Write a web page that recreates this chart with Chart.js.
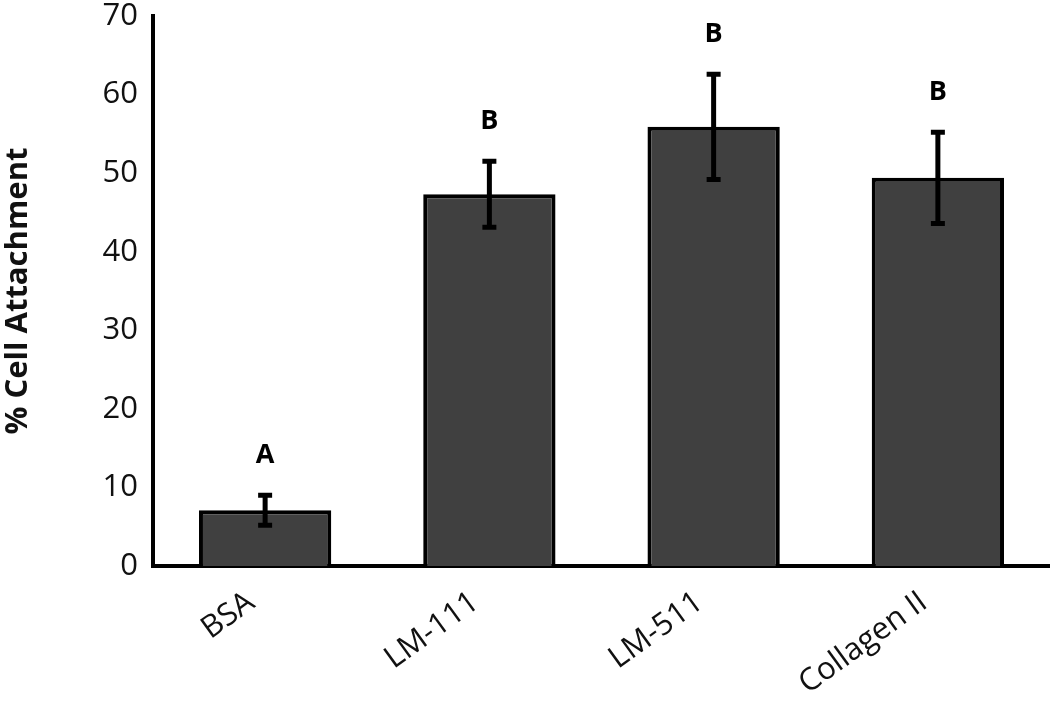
<!DOCTYPE html>
<html>
<head>
<meta charset="utf-8">
<script src="https://cdn.jsdelivr.net/npm/chart.js@4.4.1/dist/chart.umd.min.js"></script>
<style>
  html, body { margin: 0; padding: 0; background: #fff; }
  #wrap { width: 1050px; height: 708px; position: relative; }
</style>
</head>
<body>
<div id="wrap"><canvas id="chart"></canvas></div>
<script>
/* ---------- data ---------- */
const categories = ['BSA', 'LM-111', 'LM-511', 'Collagen II'];
const attachment = [7.1, 47.3, 55.9, 49.4];
const errors = [1.9, 4.2, 6.7, 5.8];
const groups = ['A', 'B', 'B', 'B'];
const yTicks = [0, 10, 20, 30, 40, 50, 60, 70];

const FONT = '"Open Sans", "Liberation Sans", sans-serif';

/* error bars + significance letters */
const errorBarPlugin = {
  id: 'errorBars',
  afterDatasetsDraw(chart) {
    const ctx = chart.ctx;
    const meta = chart.getDatasetMeta(0);
    const y = chart.scales.y;
    ctx.save();
    meta.data.forEach((bar, i) => {
      const top = y.getPixelForValue(attachment[i] + errors[i]);
      const bot = y.getPixelForValue(attachment[i] - errors[i]);
      ctx.strokeStyle = '#000';
      ctx.lineWidth = 5;
      ctx.lineCap = 'butt';
      ctx.beginPath();
      ctx.moveTo(bar.x, top);
      ctx.lineTo(bar.x, bot);
      ctx.moveTo(bar.x - 7, top);
      ctx.lineTo(bar.x + 7, top);
      ctx.moveTo(bar.x - 7, bot);
      ctx.lineTo(bar.x + 7, bot);
      ctx.stroke();

      ctx.fillStyle = '#000';
      ctx.font = 'bold 27px ' + FONT;
      ctx.textAlign = 'center';
      ctx.textBaseline = 'middle';
      ctx.fillText(groups[i], bar.x, top - 40);
    });
    ctx.restore();
  }
};

new Chart(document.getElementById('chart'), {
  type: 'bar',
  data: {
    labels: categories,
    datasets: [{
      data: attachment,
      backgroundColor: '#404040',
      borderColor: '#000',
      borderWidth: 4,
      borderSkipped: 'bottom',
      categoryPercentage: 1,
      barPercentage: 0.59
    }]
  },
  options: {
    responsive: true,
    maintainAspectRatio: false,
    animation: false,
    events: [],
    layout: { padding: { top: 16, right: 0, left: 0, bottom: 0 } },
    plugins: { legend: { display: false }, tooltip: { enabled: false } },
    scales: {
      x: {
        grid: { display: false, drawTicks: false },
        border: { display: true, color: '#000', width: 4 },
        ticks: {
          color: '#111',
          font: { family: FONT, size: 31 },
          minRotation: 36,
          maxRotation: 36,
          padding: 18,
          labelOffset: -14
        },
        afterFit(scale) {
          scale.height = 142;
          scale.paddingTop = 0;
        }
      },
      y: {
        min: 0,
        max: 70,
        afterBuildTicks(scale) { scale.ticks = yTicks.map(v => ({ value: v })); },
        grid: { display: false, drawTicks: false },
        border: { display: true, color: '#000', width: 4 },
        ticks: {
          color: '#111',
          font: { family: FONT, size: 31 },
          padding: 15
        },
        title: {
          display: true,
          text: '% Cell Attachment',
          color: '#111',
          font: { family: FONT, size: 31, weight: 'bold' },
          padding: { top: 0, bottom: 4 }
        },
        afterFit(scale) {
          scale.width = 153;
          scale.paddingTop = 0;
        }
      }
    }
  },
  plugins: [errorBarPlugin]
});
</script>
</body>
</html>
